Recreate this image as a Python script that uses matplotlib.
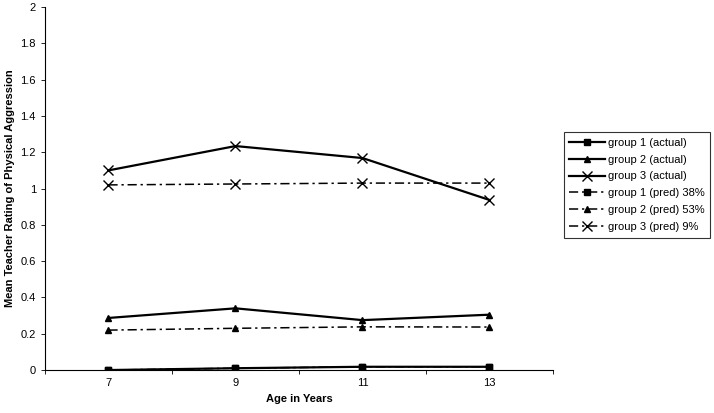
import matplotlib
matplotlib.use("Agg")
import matplotlib.pyplot as plt

plt.rcParams["font.family"] = ["Liberation Sans", "DejaVu Sans"]

ages = ["7", "9", "11", "13"]

g1_actual = [0.0, 0.01, 0.018, 0.018]
g2_actual = [0.287, 0.34, 0.275, 0.305]
g3_actual = [1.10, 1.234, 1.168, 0.937]

g1_pred = [0.0, 0.01, 0.018, 0.018]
g2_pred = [0.22, 0.23, 0.238, 0.237]
g3_pred = [1.02, 1.025, 1.03, 1.03]

labels = [
    "group 1 (actual)",
    "group 2 (actual)",
    "group 3 (actual)",
    "group 1 (pred) 38%",
    "group 2 (pred) 53%",
    "group 3 (pred) 9%",
]

fig = plt.figure(figsize=(7.14, 4.13), dpi=100)
ax = fig.add_axes([0.063, 0.104, 0.7115, 0.879])

x = [i + 0.5 for i in range(len(ages))]
dashdot = (0, (6, 2.5, 1.5, 2.5))

ax.plot(x, g1_actual, color="black", lw=1.6, marker="s", ms=4.5, label=labels[0])
ax.plot(x, g2_actual, color="black", lw=1.6, marker="^", ms=5, label=labels[1])
ax.plot(x, g3_actual, color="black", lw=1.6, marker="x", ms=6.5, mew=1, label=labels[2])
ax.plot(x, g1_pred, color="black", lw=1.1, ls=dashdot, marker="s", ms=4.5, label=labels[3])
ax.plot(x, g2_pred, color="black", lw=1.1, ls=dashdot, marker="^", ms=5, label=labels[4])
ax.plot(x, g3_pred, color="black", lw=1.1, ls=dashdot, marker="x", ms=6.5, mew=1, label=labels[5])

ax.set_xlim(0, 4)
ax.set_ylim(0, 2)
ax.set_xticks(range(5))
ax.set_xticklabels([])
ax.set_xticks(x, minor=True)
ax.set_xticklabels(ages, minor=True)
ax.tick_params(axis="x", which="minor", length=0, labelsize=8, pad=6)
ax.tick_params(axis="x", which="major", length=3, width=0.6)
ax.set_yticks([0, 0.2, 0.4, 0.6, 0.8, 1.0, 1.2, 1.4, 1.6, 1.8, 2.0])
ax.set_yticklabels(["0", "0.2", "0.4", "0.6", "0.8", "1", "1.2", "1.4", "1.6", "1.8", "2"])
ax.tick_params(axis="y", length=3, width=0.6, labelsize=8)

for side in ["top", "right"]:
    ax.spines[side].set_visible(False)
ax.spines["left"].set_linewidth(0.8)
ax.spines["bottom"].set_linewidth(0.8)

ax.set_xlabel("Age in Years", fontsize=8, fontweight="bold")
ax.set_ylabel("Mean Teacher Rating of Physical Aggression", fontsize=8, fontweight="bold")

leg = ax.legend(
    loc="center left",
    bbox_to_anchor=(1.01, 0.51),
    fontsize=8,
    frameon=True,
    fancybox=False,
    edgecolor="black",
    handlelength=3.2,
    labelspacing=0.62,
    borderpad=0.5,
    handletextpad=0.3,
)
leg.get_frame().set_linewidth(0.8)

fig.savefig("out.png", dpi=100)
